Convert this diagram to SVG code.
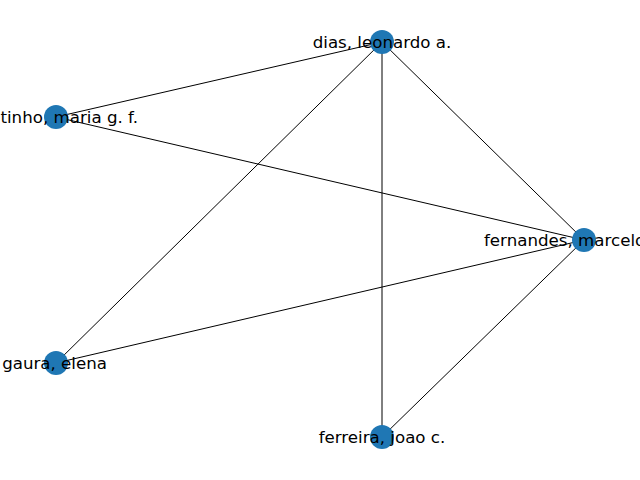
<svg xmlns="http://www.w3.org/2000/svg" width="640" height="480" viewBox="0 0 640 480">
<style>
.e{stroke:#000;stroke-width:1;fill:none}
.n{fill:#1f77b4}
.t{font-family:"DejaVu Sans",sans-serif;font-size:16.67px;fill:#000}
</style>
<rect width="640" height="480" fill="#fff"/>
<g id="edges">
<line class="e" x1="382" y1="42" x2="56" y2="117"/>
<line class="e" x1="382" y1="42" x2="56" y2="363"/>
<line class="e" x1="382" y1="42" x2="382" y2="437"/>
<line class="e" x1="382" y1="42" x2="584" y2="240"/>
<line class="e" x1="56" y1="117" x2="584" y2="240"/>
<line class="e" x1="56" y1="363" x2="584" y2="240"/>
<line class="e" x1="584" y1="240" x2="382" y2="437"/>
</g>
<g id="dias"><circle class="n" cx="382" cy="42" r="12"/><text class="t" x="382" y="48" text-anchor="middle">dias, leonardo a.</text></g>
<g id="maria"><circle class="n" cx="56" cy="117" r="12"/><text class="t" x="138" y="123" text-anchor="end">tinho, maria g. f.</text></g>
<g id="fernandes"><circle class="n" cx="584" cy="240" r="12"/><text class="t" x="484" y="246">fernandes, marcelo</text></g>
<g id="gaura"><circle class="n" cx="56" cy="363" r="12"/><text class="t" x="107" y="369" text-anchor="end">gaura, elena</text></g>
<g id="ferreira"><circle class="n" cx="382" cy="437" r="12"/><text class="t" x="382" y="443" text-anchor="middle">ferreira, joao c.</text></g>
</svg>
